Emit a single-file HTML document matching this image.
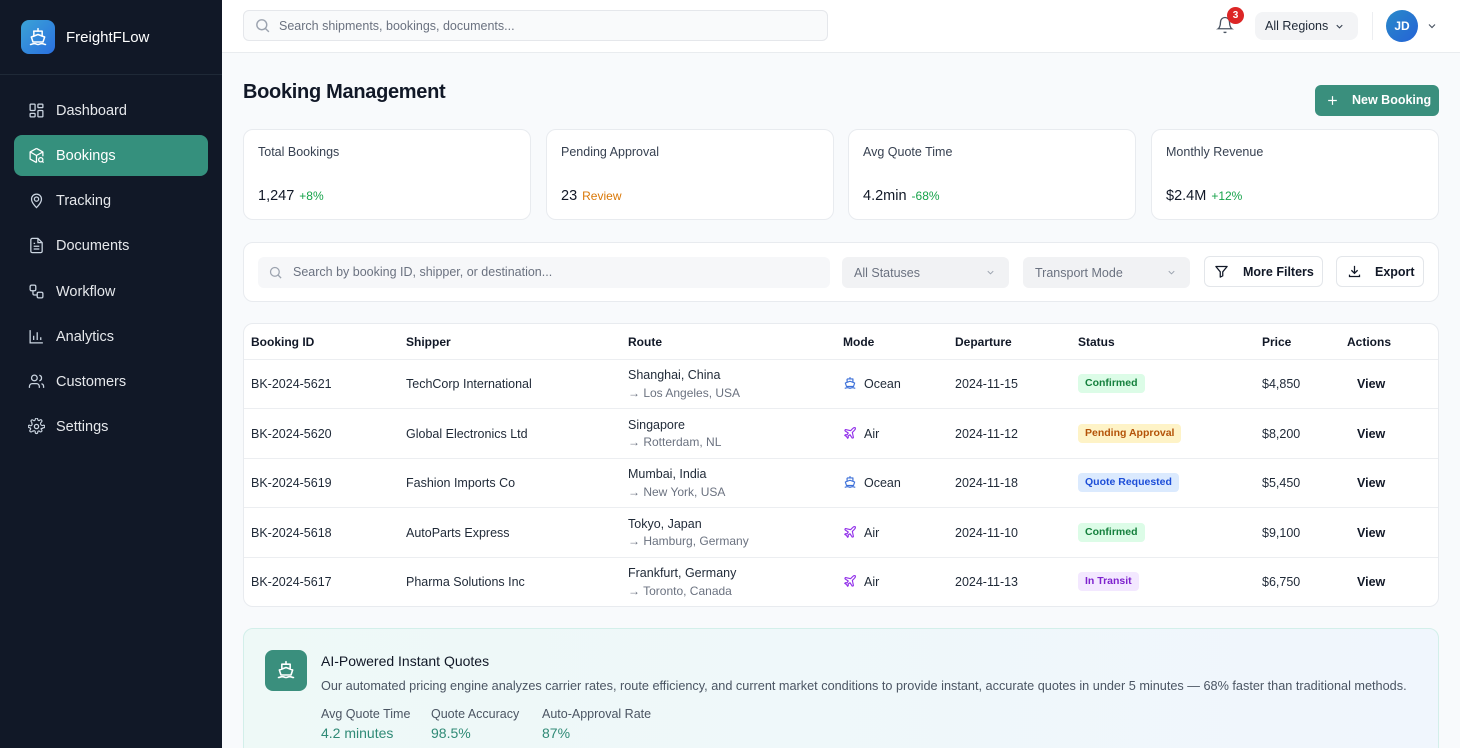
<!DOCTYPE html>
<html><head><meta charset="utf-8">
<style>
*{box-sizing:border-box;margin:0;padding:0}
html{width:1460px;height:748px;overflow:hidden}
body{width:1460px;height:748px;overflow:hidden;background:#f8fafc;font-family:"Liberation Sans",Arial,sans-serif;color:#111827;position:relative}
.abs{position:absolute}
.sb{left:0;top:0;width:222px;height:748px;background:#111827;}
.nav{position:absolute;left:14px;width:194px;height:41px;border-radius:8px;display:flex;align-items:center;padding-left:14px;color:#e5e7eb;font-size:14.5px}
.nav svg{width:17px;height:17px;margin-right:11px;flex:none}
.nav.act{background:#35907d;color:#fff}
.card{position:absolute;background:#fff;border:1px solid #e8ebef;border-radius:10px}
.lbl{position:absolute;font-size:12.5px;color:#374151}
.val{position:absolute;font-size:14.5px;color:#111827}
.val span{font-size:12px;margin-left:5px}
.th{position:absolute;top:335px;font-size:12px;font-weight:bold;color:#111827}
.td{position:absolute;font-size:12.5px;color:#1f2937;white-space:nowrap}
.sub{color:#6b7280;font-size:12px}
.badge{position:absolute;height:19px;border-radius:4px;font-size:10.5px;font-weight:bold;line-height:19px;padding:0 7px;white-space:nowrap}
.hr{position:absolute;left:244px;width:1194px;height:1px;background:#eceef1}
.sel{position:absolute;height:31px;border-radius:6px;background:#f1f2f4;font-size:12.5px;color:#6b7280;display:flex;align-items:center;padding-left:12px}
.btn{position:absolute;height:31px;border-radius:6px;background:#fff;border:1px solid #e3e6ea;font-size:12.5px;font-weight:bold;color:#111827;display:flex;align-items:center}
</style></head><body>

<!-- Sidebar -->
<div class="abs sb"></div>
<div class="abs" style="left:21px;top:20px;width:34px;height:34px;border-radius:8px;background:linear-gradient(135deg,#3ba3d6,#2a6fe0);"></div>
<svg class="abs" style="left:28px;top:27px" width="20" height="20" viewBox="0 0 24 24" fill="none" stroke="#fff" stroke-width="1.8" stroke-linecap="round" stroke-linejoin="round"><path d="M12 2v3"/><path d="M7 5h10v6"/><path d="M7 11V5"/><path d="M4 12l8-3 8 3-2 6H6z"/><path d="M3 21c2 0 2-1 4.5-1s2.5 1 4.5 1 2-1 4.5-1 2.5 1 4.5 1"/></svg>
<div class="abs" style="left:66px;top:29px;font-size:15px;color:#fff">FreightFLow</div>
<div class="abs" style="left:0;top:74px;width:222px;height:1px;background:#1f2937"></div>

<div class="nav" style="top:90px"><svg viewBox="0 0 24 24" fill="none" stroke="#cbd5e1" stroke-width="1.8"><rect x="3" y="3" width="7" height="9" rx="1"/><rect x="14" y="3" width="7" height="5" rx="1"/><rect x="14" y="12" width="7" height="9" rx="1"/><rect x="3" y="16" width="7" height="5" rx="1"/></svg>Dashboard</div>
<div class="nav act" style="top:135px"><svg viewBox="0 0 24 24" fill="none" stroke="#fff" stroke-width="1.8" stroke-linejoin="round"><path d="M12 2l9 5v6M12 2L3 7v10l9 5"/><path d="M3 7l9 5 9-5M12 12v10"/><circle cx="18" cy="18" r="3"/><path d="M20.5 20.5L22 22"/></svg>Bookings</div>
<div class="nav" style="top:180px"><svg viewBox="0 0 24 24" fill="none" stroke="#cbd5e1" stroke-width="1.8"><path d="M12 22s7-6.5 7-12a7 7 0 0 0-14 0c0 5.5 7 12 7 12z"/><circle cx="12" cy="10" r="3"/></svg>Tracking</div>
<div class="nav" style="top:225px"><svg viewBox="0 0 24 24" fill="none" stroke="#cbd5e1" stroke-width="1.8"><path d="M14 2H6a2 2 0 0 0-2 2v16a2 2 0 0 0 2 2h12a2 2 0 0 0 2-2V8z"/><path d="M14 2v6h6M8 13h8M8 17h8M8 9h2"/></svg>Documents</div>
<div class="nav" style="top:271px"><svg viewBox="0 0 24 24" fill="none" stroke="#cbd5e1" stroke-width="1.8"><rect x="3" y="3" width="8" height="8" rx="2"/><rect x="13" y="13" width="8" height="8" rx="2"/><path d="M7 11v4a2 2 0 0 0 2 2h4"/></svg>Workflow</div>
<div class="nav" style="top:316px"><svg viewBox="0 0 24 24" fill="none" stroke="#cbd5e1" stroke-width="1.8"><path d="M3 3v18h18M8 17V11M13 17V6M18 17v-4"/></svg>Analytics</div>
<div class="nav" style="top:361px"><svg viewBox="0 0 24 24" fill="none" stroke="#cbd5e1" stroke-width="1.8"><circle cx="9" cy="7" r="4"/><path d="M2 21v-2a4 4 0 0 1 4-4h6a4 4 0 0 1 4 4v2M16 3.1a4 4 0 0 1 0 7.8M22 21v-2a4 4 0 0 0-3-3.9"/></svg>Customers</div>
<div class="nav" style="top:406px"><svg viewBox="0 0 24 24" fill="none" stroke="#cbd5e1" stroke-width="1.8"><circle cx="12" cy="12" r="3"/><path d="M19.4 15a1.7 1.7 0 0 0 .3 1.8l.1.1a2 2 0 1 1-2.8 2.8l-.1-.1a1.7 1.7 0 0 0-2.9 1.2V21a2 2 0 1 1-4 0v-.1A1.7 1.7 0 0 0 7 19.4a1.7 1.7 0 0 0-1.8.3l-.1.1a2 2 0 1 1-2.8-2.8l.1-.1A1.7 1.7 0 0 0 1.2 14H1a2 2 0 1 1 0-4h.1A1.7 1.7 0 0 0 4.6 7a1.7 1.7 0 0 0-.3-1.8l-.1-.1a2 2 0 1 1 2.8-2.8l.1.1A1.7 1.7 0 0 0 10 1.2V1a2 2 0 1 1 4 0v.1a1.7 1.7 0 0 0 2.9 1.2l.1-.1a2 2 0 1 1 2.8 2.8l-.1.1A1.7 1.7 0 0 0 22.8 10H23a2 2 0 1 1 0 4h-.1a1.7 1.7 0 0 0-1.5 1z" transform="scale(.9) translate(1.3 1.3)"/></svg>Settings</div>

<!-- Header -->
<div class="abs" style="left:222px;top:0;width:1238px;height:53px;background:#fff;border-bottom:1px solid #e9ecef"></div>
<div class="abs" style="left:243px;top:10px;width:585px;height:31px;border-radius:6px;background:#f9fafb;border:1px solid #e5e7eb"></div>
<svg class="abs" style="left:254px;top:17px" width="17" height="17" viewBox="0 0 24 24" fill="none" stroke="#9ca3af" stroke-width="2"><circle cx="11" cy="11" r="7"/><path d="M21 21l-5-5"/></svg>
<div class="abs" style="left:279px;top:19px;font-size:12.5px;color:#6b7280">Search shipments, bookings, documents...</div>
<svg class="abs" style="left:1216px;top:16px" width="18" height="18" viewBox="0 0 24 24" fill="none" stroke="#4b5563" stroke-width="1.8"><path d="M6 8a6 6 0 0 1 12 0c0 7 3 9 3 9H3s3-2 3-9"/><path d="M10.3 21a1.9 1.9 0 0 0 3.4 0"/></svg>
<div class="abs" style="left:1227px;top:7px;width:17px;height:17px;border-radius:50%;background:#dc2626;color:#fff;font-size:10px;font-weight:bold;text-align:center;line-height:17px">3</div>
<div class="abs" style="left:1255px;top:12px;width:103px;height:28px;border-radius:8px;background:#f3f4f6;font-size:12.5px;color:#1f2937;padding-left:10px;line-height:28px">All Regions</div>
<svg class="abs" style="left:1334px;top:21px" width="11" height="11" viewBox="0 0 24 24" fill="none" stroke="#374151" stroke-width="2.5"><path d="M6 9l6 6 6-6"/></svg>
<div class="abs" style="left:1372px;top:12px;width:1px;height:28px;background:#eceef1"></div>
<div class="abs" style="left:1386px;top:10px;width:32px;height:32px;border-radius:50%;background:linear-gradient(135deg,#2a8ac9,#2462d6);color:#fff;font-size:12px;font-weight:bold;text-align:center;line-height:32px">JD</div>
<svg class="abs" style="left:1426px;top:20px" width="12" height="12" viewBox="0 0 24 24" fill="none" stroke="#4b5563" stroke-width="2.3"><path d="M6 9l6 6 6-6"/></svg>

<!-- Title -->
<div class="abs" style="left:243px;top:81px;font-size:20px;font-weight:bold;color:#111827;letter-spacing:-0.3px">Booking Management</div>
<div class="abs" style="left:1315px;top:85px;width:124px;height:31px;border-radius:6px;background:#3a8f7d;color:#fff;font-size:12.5px;font-weight:bold;line-height:31px;padding-left:37px">New Booking</div>
<svg class="abs" style="left:1326px;top:94px" width="13" height="13" viewBox="0 0 24 24" fill="none" stroke="#fff" stroke-width="2.2"><path d="M12 4v16M4 12h16"/></svg>

<!-- Stat cards -->
<div class="card" style="left:243px;top:129px;width:288px;height:91px"></div>
<div class="lbl" style="left:258px;top:145px">Total Bookings</div>
<div class="val" style="left:258px;top:188px">1,247<span style="color:#16a34a">+8%</span></div>
<div class="card" style="left:546px;top:129px;width:288px;height:91px"></div>
<div class="lbl" style="left:561px;top:145px">Pending Approval</div>
<div class="val" style="left:561px;top:188px">23<span style="color:#d97706">Review</span></div>
<div class="card" style="left:848px;top:129px;width:288px;height:91px"></div>
<div class="lbl" style="left:863px;top:145px">Avg Quote Time</div>
<div class="val" style="left:863px;top:188px">4.2min<span style="color:#16a34a">-68%</span></div>
<div class="card" style="left:1151px;top:129px;width:288px;height:91px"></div>
<div class="lbl" style="left:1166px;top:145px">Monthly Revenue</div>
<div class="val" style="left:1166px;top:188px">$2.4M<span style="color:#16a34a">+12%</span></div>

<!-- Filter bar -->
<div class="card" style="left:243px;top:242px;width:1196px;height:60px"></div>
<div class="abs" style="left:258px;top:257px;width:572px;height:31px;border-radius:6px;background:#f6f7f9"></div>
<svg class="abs" style="left:268px;top:265px" width="15" height="15" viewBox="0 0 24 24" fill="none" stroke="#9ca3af" stroke-width="2"><circle cx="11" cy="11" r="7"/><path d="M21 21l-5-5"/></svg>
<div class="abs" style="left:293px;top:265px;font-size:12.5px;color:#6b7280">Search by booking ID, shipper, or destination...</div>
<div class="sel" style="left:842px;top:257px;width:167px">All Statuses</div>
<svg class="abs" style="left:985px;top:267px" width="11" height="11" viewBox="0 0 24 24" fill="none" stroke="#9ca3af" stroke-width="2"><path d="M6 9l6 6 6-6"/></svg>
<div class="sel" style="left:1023px;top:257px;width:167px">Transport Mode</div>
<svg class="abs" style="left:1166px;top:267px" width="11" height="11" viewBox="0 0 24 24" fill="none" stroke="#9ca3af" stroke-width="2"><path d="M6 9l6 6 6-6"/></svg>
<div class="btn" style="left:1204px;top:256px;width:119px;padding-left:38px">More Filters</div>
<svg class="abs" style="left:1214px;top:264px" width="15" height="15" viewBox="0 0 24 24" fill="none" stroke="#111827" stroke-width="2" stroke-linejoin="round"><path d="M3 4h18l-7 8.5V19l-4 2v-8.5z"/></svg>
<div class="btn" style="left:1336px;top:256px;width:88px;padding-left:38px">Export</div>
<svg class="abs" style="left:1347px;top:264px" width="15" height="15" viewBox="0 0 24 24" fill="none" stroke="#111827" stroke-width="2"><path d="M12 3v12M7 10l5 5 5-5M4 17v3h16v-3"/></svg>

<!-- Table -->
<div class="card" style="left:243px;top:323px;width:1196px;height:284px"></div>
<div class="th" style="left:251px">Booking ID</div>
<div class="th" style="left:406px">Shipper</div>
<div class="th" style="left:628px">Route</div>
<div class="th" style="left:843px">Mode</div>
<div class="th" style="left:955px">Departure</div>
<div class="th" style="left:1078px">Status</div>
<div class="th" style="left:1262px">Price</div>
<div class="th" style="left:1347px">Actions</div>
<div class="hr" style="top:359px"></div>
<div class="hr" style="top:408px"></div>
<div class="hr" style="top:458px"></div>
<div class="hr" style="top:507px"></div>
<div class="hr" style="top:557px"></div>

<!-- row 1 -->
<div class="td" style="left:251px;top:377px">BK-2024-5621</div>
<div class="td" style="left:406px;top:377px">TechCorp International</div>
<div class="td" style="left:628px;top:368px">Shanghai, China</div>
<div class="td sub" style="left:628px;top:386px">→ Los Angeles, USA</div>
<svg class="abs" style="left:843px;top:376px" width="14" height="14" viewBox="0 0 24 24" fill="none" stroke="#3b6fd8" stroke-width="2" stroke-linejoin="round"><path d="M12 2v3M7 5h10v6M7 11V5M4 12l8-3 8 3-2 6H6z"/><path d="M3 21c2 0 2-1 4.5-1s2.5 1 4.5 1 2-1 4.5-1 2.5 1 4.5 1"/></svg>
<div class="td" style="left:864px;top:377px">Ocean</div>
<div class="td" style="left:955px;top:377px">2024-11-15</div>
<div class="badge" style="left:1078px;top:374px;background:#dcfce7;color:#15803d">Confirmed</div>
<div class="td" style="left:1262px;top:377px">$4,850</div>
<div class="td" style="left:1357px;top:377px;font-weight:bold;color:#111827">View</div>

<!-- row 2 -->
<div class="td" style="left:251px;top:427px">BK-2024-5620</div>
<div class="td" style="left:406px;top:427px">Global Electronics Ltd</div>
<div class="td" style="left:628px;top:418px">Singapore</div>
<div class="td sub" style="left:628px;top:435px">→ Rotterdam, NL</div>
<svg class="abs" style="left:843px;top:426px" width="14" height="14" viewBox="0 0 24 24" fill="none" stroke="#9333ea" stroke-width="2" stroke-linejoin="round"><path d="M17.8 19.2L16 11l3.5-3.5C21 6 21.5 4 21 3c-1-.5-3 0-4.5 1.5L13 8 4.8 6.2c-.5-.1-.9.1-1.1.5l-.3.5c-.2.5-.1 1 .3 1.3L9 12l-2 3H4l-1 1 3 2 2 3 1-1v-3l3-2 3.5 5.3c.3.4.8.5 1.3.3l.5-.2c.4-.3.6-.7.5-1.2z"/></svg>
<div class="td" style="left:864px;top:427px">Air</div>
<div class="td" style="left:955px;top:427px">2024-11-12</div>
<div class="badge" style="left:1078px;top:424px;background:#fef3c7;color:#b45309">Pending Approval</div>
<div class="td" style="left:1262px;top:427px">$8,200</div>
<div class="td" style="left:1357px;top:427px;font-weight:bold;color:#111827">View</div>

<!-- row 3 -->
<div class="td" style="left:251px;top:476px">BK-2024-5619</div>
<div class="td" style="left:406px;top:476px">Fashion Imports Co</div>
<div class="td" style="left:628px;top:467px">Mumbai, India</div>
<div class="td sub" style="left:628px;top:485px">→ New York, USA</div>
<svg class="abs" style="left:843px;top:475px" width="14" height="14" viewBox="0 0 24 24" fill="none" stroke="#3b6fd8" stroke-width="2" stroke-linejoin="round"><path d="M12 2v3M7 5h10v6M7 11V5M4 12l8-3 8 3-2 6H6z"/><path d="M3 21c2 0 2-1 4.5-1s2.5 1 4.5 1 2-1 4.5-1 2.5 1 4.5 1"/></svg>
<div class="td" style="left:864px;top:476px">Ocean</div>
<div class="td" style="left:955px;top:476px">2024-11-18</div>
<div class="badge" style="left:1078px;top:473px;background:#dbeafe;color:#1d4ed8">Quote Requested</div>
<div class="td" style="left:1262px;top:476px">$5,450</div>
<div class="td" style="left:1357px;top:476px;font-weight:bold;color:#111827">View</div>

<!-- row 4 -->
<div class="td" style="left:251px;top:526px">BK-2024-5618</div>
<div class="td" style="left:406px;top:526px">AutoParts Express</div>
<div class="td" style="left:628px;top:517px">Tokyo, Japan</div>
<div class="td sub" style="left:628px;top:534px">→ Hamburg, Germany</div>
<svg class="abs" style="left:843px;top:525px" width="14" height="14" viewBox="0 0 24 24" fill="none" stroke="#9333ea" stroke-width="2" stroke-linejoin="round"><path d="M17.8 19.2L16 11l3.5-3.5C21 6 21.5 4 21 3c-1-.5-3 0-4.5 1.5L13 8 4.8 6.2c-.5-.1-.9.1-1.1.5l-.3.5c-.2.5-.1 1 .3 1.3L9 12l-2 3H4l-1 1 3 2 2 3 1-1v-3l3-2 3.5 5.3c.3.4.8.5 1.3.3l.5-.2c.4-.3.6-.7.5-1.2z"/></svg>
<div class="td" style="left:864px;top:526px">Air</div>
<div class="td" style="left:955px;top:526px">2024-11-10</div>
<div class="badge" style="left:1078px;top:523px;background:#dcfce7;color:#15803d">Confirmed</div>
<div class="td" style="left:1262px;top:526px">$9,100</div>
<div class="td" style="left:1357px;top:526px;font-weight:bold;color:#111827">View</div>

<!-- row 5 -->
<div class="td" style="left:251px;top:575px">BK-2024-5617</div>
<div class="td" style="left:406px;top:575px">Pharma Solutions Inc</div>
<div class="td" style="left:628px;top:566px">Frankfurt, Germany</div>
<div class="td sub" style="left:628px;top:584px">→ Toronto, Canada</div>
<svg class="abs" style="left:843px;top:574px" width="14" height="14" viewBox="0 0 24 24" fill="none" stroke="#9333ea" stroke-width="2" stroke-linejoin="round"><path d="M17.8 19.2L16 11l3.5-3.5C21 6 21.5 4 21 3c-1-.5-3 0-4.5 1.5L13 8 4.8 6.2c-.5-.1-.9.1-1.1.5l-.3.5c-.2.5-.1 1 .3 1.3L9 12l-2 3H4l-1 1 3 2 2 3 1-1v-3l3-2 3.5 5.3c.3.4.8.5 1.3.3l.5-.2c.4-.3.6-.7.5-1.2z"/></svg>
<div class="td" style="left:864px;top:575px">Air</div>
<div class="td" style="left:955px;top:575px">2024-11-13</div>
<div class="badge" style="left:1078px;top:572px;background:#f3e8ff;color:#7e22ce">In Transit</div>
<div class="td" style="left:1262px;top:575px">$6,750</div>
<div class="td" style="left:1357px;top:575px;font-weight:bold;color:#111827">View</div>

<!-- AI panel -->
<div class="abs" style="left:243px;top:628px;width:1196px;height:130px;border-radius:10px;border:1px solid #d3efea;background:linear-gradient(90deg,#eef9f7,#f0f6fd)"></div>
<div class="abs" style="left:265px;top:650px;width:42px;height:41px;border-radius:8px;background:#3a8f7d"></div>
<svg class="abs" style="left:276px;top:660px" width="20" height="20" viewBox="0 0 24 24" fill="none" stroke="#fff" stroke-width="1.9" stroke-linecap="round" stroke-linejoin="round"><path d="M12 2v3M7 5h10v6M7 11V5M4 12l8-3 8 3-2 6H6z"/><path d="M3 21c2 0 2-1 4.5-1s2.5 1 4.5 1 2-1 4.5-1 2.5 1 4.5 1"/></svg>
<div class="abs" style="left:321px;top:653px;font-size:14px;color:#111827">AI-Powered Instant Quotes</div>
<div class="abs" style="left:321px;top:679px;font-size:12.7px;color:#4b5563;white-space:nowrap">Our automated pricing engine analyzes carrier rates, route efficiency, and current market conditions to provide instant, accurate quotes in under 5 minutes — 68% faster than traditional methods.</div>
<div class="abs" style="left:321px;top:707px;font-size:12.5px;color:#4b5563">Avg Quote Time</div>
<div class="abs" style="left:321px;top:725px;font-size:14px;color:#2f8a76">4.2 minutes</div>
<div class="abs" style="left:431px;top:707px;font-size:12.5px;color:#4b5563">Quote Accuracy</div>
<div class="abs" style="left:431px;top:725px;font-size:14px;color:#2f8a76">98.5%</div>
<div class="abs" style="left:542px;top:707px;font-size:12.5px;color:#4b5563">Auto-Approval Rate</div>
<div class="abs" style="left:542px;top:725px;font-size:14px;color:#2f8a76">87%</div>

</body></html>
